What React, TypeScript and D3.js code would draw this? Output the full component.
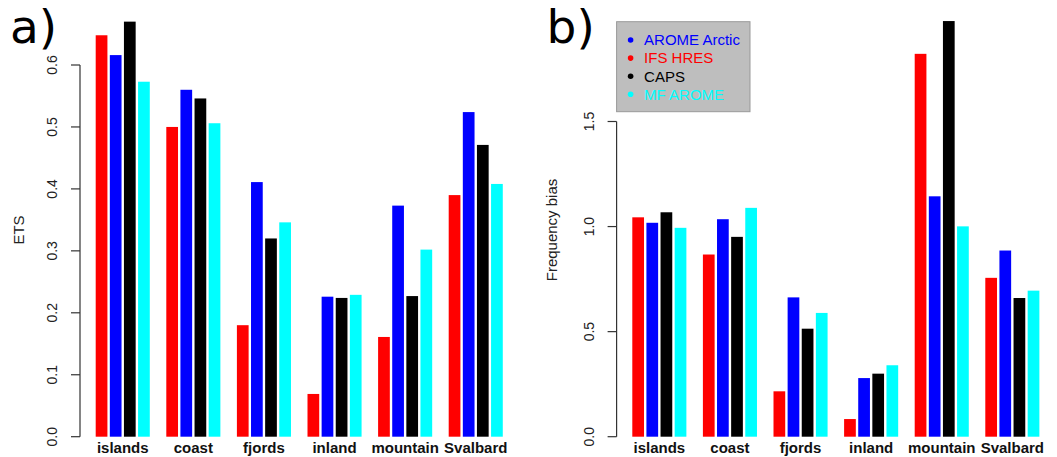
import * as d3 from "d3";

const regions = ["islands", "coast", "fjords", "inland", "mountain", "Svalbard"];
const models = ["IFS HRES", "AROME Arctic", "CAPS", "MF AROME"];
const colors = ["#ff0000", "#0000ff", "#000000", "#00ffff"];

// ETS per region, one array per model (same order as models)
const etsIfs = [0.648, 0.5, 0.18, 0.069, 0.161, 0.39];
const etsArome = [0.616, 0.56, 0.411, 0.226, 0.373, 0.524];
const etsCaps = [0.67, 0.546, 0.32, 0.224, 0.227, 0.471];
const etsMf = [0.573, 0.506, 0.346, 0.229, 0.302, 0.408];

// frequency bias per region
const fbIfs = [1.044, 0.867, 0.216, 0.084, 1.822, 0.756];
const fbArome = [1.018, 1.035, 0.663, 0.279, 1.144, 0.886];
const fbCaps = [1.068, 0.951, 0.514, 0.3, 1.978, 0.66];
const fbMf = [0.994, 1.089, 0.589, 0.34, 1.001, 0.695];

const etsTicks = [0, 0.1, 0.2, 0.3, 0.4, 0.5, 0.6];
const fbTicks = [0, 0.5, 1, 1.5];

// legend order differs from bar order
const legendOrder = [1, 0, 2, 3];

const sans = "'Liberation Sans', Arial, sans-serif";

function Panel({ series, ticks, label, ylab, x0, top, ylabX, legend }) {
  // R barplot style: units of one bar, groups of 4 with a gap of 1
  const unit = 14.12;
  const x = d3.scaleLinear().domain([1, 30]).range([x0, x0 + 29 * unit]);
  const y = d3.scaleLinear().domain([0, ticks[ticks.length - 1]]).range([436.7, top]);
  const axisX = x0 - 14.5;
  const gap = 1.2;

  return (
    <g>
      {series.map((vals, m) =>
        vals.map((v, g) => {
          const u = 1 + g * 5 + m;
          return (
            <rect
              key={m + "-" + g}
              x={x(u) + gap}
              width={x(u + 1) - x(u) - 2 * gap}
              y={y(v)}
              height={y(0) - y(v)}
              fill={colors[m]}
            />
          );
        })
      )}

      <line x1={axisX} x2={axisX} y1={y(0)} y2={y(ticks[ticks.length - 1])} stroke="#333" strokeWidth={1.2} />
      {ticks.map((t) => (
        <g key={t}>
          <line x1={axisX - 9} x2={axisX} y1={y(t)} y2={y(t)} stroke="#333" strokeWidth={1.2} />
          <text
            transform={`translate(${axisX - 23},${y(t)}) rotate(-90)`}
            textAnchor="middle"
            fontFamily={sans}
            fontSize={14}
            fill="#222"
          >
            {d3.format(".1f")(t)}
          </text>
        </g>
      ))}

      {regions.map((r, g) => (
        <text
          key={r}
          x={x(1 + g * 5 + 2)}
          y={453}
          textAnchor="middle"
          fontFamily={sans}
          fontWeight="bold"
          fontSize={15}
          fill="#111"
        >
          {r}
        </text>
      ))}

      <text
        transform={`translate(${ylabX},230) rotate(-90)`}
        textAnchor="middle"
        fontFamily={sans}
        fontSize={15}
        fill="#222"
      >
        {ylab}
      </text>

      {legend && (
        <g>
          <rect x={axisX} y={21.7} width={133.4} height={90} fill="#bebebe" stroke="#999" strokeWidth={1} />
          {legendOrder.map((m, i) => (
            <g key={m}>
              <circle cx={axisX + 14} cy={40 + i * 18.1} r={2.8} fill={colors[m]} />
              <text x={axisX + 27.5} y={45.3 + i * 18.1} fontFamily={sans} fontSize={15} fill={colors[m]}>
                {models[m]}
              </text>
            </g>
          ))}
        </g>
      )}

      <text x={axisX - 70} y={43} fontFamily="'DejaVu Sans', sans-serif" fontSize={47} fill="#000">
        {label}
      </text>
    </g>
  );
}

export default function App() {
  return (
    <svg width={1057} height={457} style={{ display: "block", position: "absolute", left: 0, top: 0, background: "#fff" }}>
      <Panel
        series={[etsIfs, etsArome, etsCaps, etsMf]}
        ticks={etsTicks}
        label="a)"
        ylab="ETS"
        x0={94.5}
        top={65}
        ylabX={24}
        legend={false}
      />
      <Panel
        series={[fbIfs, fbArome, fbCaps, fbMf]}
        ticks={fbTicks}
        label="b)"
        ylab="Frequency bias"
        x0={631.1}
        top={121.5}
        ylabX={557}
        legend={true}
      />
    </svg>
  );
}
